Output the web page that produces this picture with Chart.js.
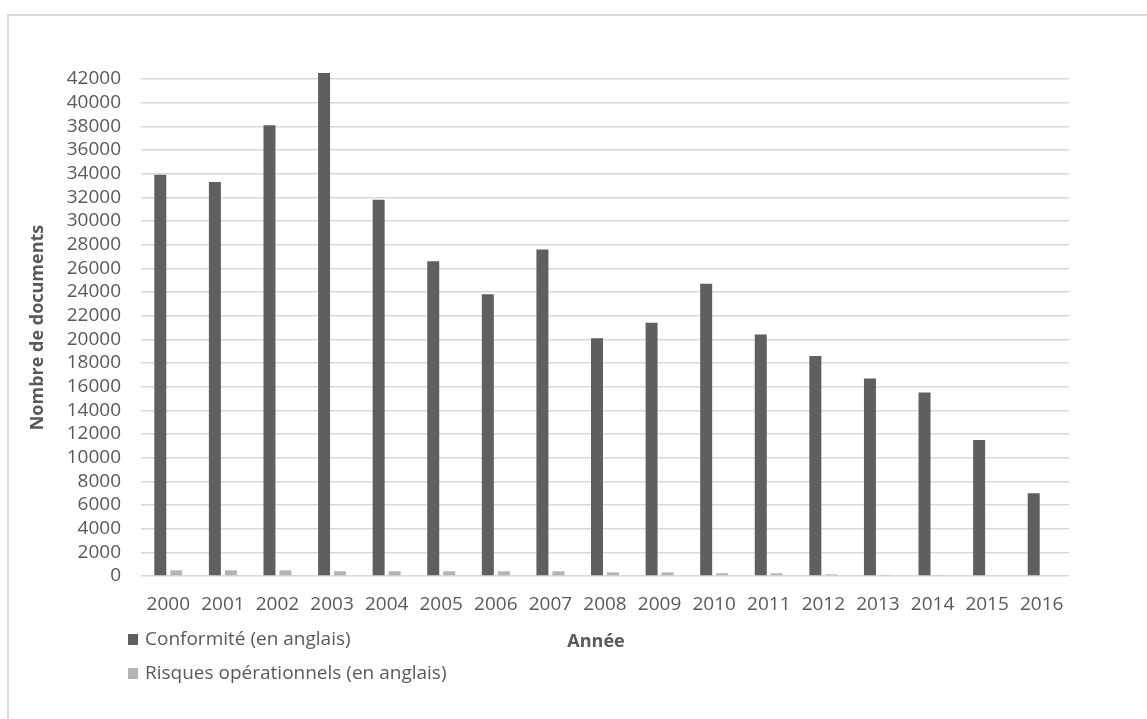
<!DOCTYPE html>
<html>
<head>
<meta charset="utf-8">
<script src="https://cdn.jsdelivr.net/npm/chart.js@4/dist/chart.umd.min.js"></script>
<style>
  html, body { margin: 0; padding: 0; background: #ffffff; }
  #wrap { position: relative; width: 1147px; height: 719px; overflow: hidden; }
  #frame { position: absolute; left: 7px; top: 14px; width: 1200px; height: 800px;
           border-top: 2px solid #d9d9d9; border-left: 2px solid #d9d9d9; }
  canvas { position: absolute; left: 0; top: 0; }
  .leg { position: absolute; left: 128px; font-family: "Open Sans", sans-serif;
         font-size: 19px; color: #595959; white-space: nowrap; line-height: 22px; }
  .leg span.sw { display: inline-block; width: 10px; height: 11px; margin-right: 7px;
                 vertical-align: 0px; }
  #xt { position: absolute; left: 546px; width: 100px; text-align: center; top: 628px;
        font-family: "Open Sans", sans-serif; font-size: 18px; font-weight: bold; color: #595959;
        line-height: 24px; }
</style>
</head>
<body>
<div id="wrap">
  <div id="frame"></div>
  <canvas id="c" width="1147" height="719"></canvas>
  <div class="leg" id="leg1" style="top:627px;"><span class="sw" style="background:#5f5f5f"></span><span id="t1"></span></div>
  <div class="leg" id="leg2" style="top:661px;"><span class="sw" style="background:#b4b4b4"></span><span id="t2"></span></div>
  <div id="xt"></div>
</div>
<script>
const categories = ["2000","2001","2002","2003","2004","2005","2006","2007","2008","2009","2010","2011","2012","2013","2014","2015","2016"];
const conformite = [33900, 33300, 38100, 42500, 31800, 26600, 23800, 27600, 20100, 21400, 24700, 20400, 18600, 16700, 15500, 11500, 7000];
const risques = [480, 480, 480, 400, 400, 400, 400, 400, 310, 310, 230, 230, 140, 90, 80, 0, 0];
const seriesNames = ["Conformité (en anglais)", "Risques opérationnels (en anglais)"];
const yTicks = [0,2000,4000,6000,8000,10000,12000,14000,16000,18000,20000,22000,24000,26000,28000,30000,32000,34000,36000,38000,40000,42000];
const xTitle = "Année";
const yTitle = "Nombre de documents";

document.getElementById('t1').textContent = seriesNames[0];
document.getElementById('t2').textContent = seriesNames[1];
document.getElementById('xt').textContent = xTitle;

const ctx = document.getElementById('c');
new Chart(ctx, {
  type: 'bar',
  data: {
    labels: categories,
    datasets: [
      { label: seriesNames[0], data: conformite, backgroundColor: '#5f5f5f',
        categoryPercentage: 0.586, barPercentage: 0.75, clip: false },
      { label: seriesNames[1], data: risques, backgroundColor: '#b4b4b4',
        categoryPercentage: 0.586, barPercentage: 0.75, clip: false }
    ]
  },
  options: {
    responsive: false,
    animation: false,
    devicePixelRatio: 1,
    layout: { padding: { left: 0, top: 79, right: 78, bottom: 0 } },
    plugins: { legend: { display: false }, tooltip: { enabled: false } },
    scales: {
      x: {
        grid: { display: false, drawTicks: false },
        border: { display: false },
        ticks: { color: '#595959', font: { family: 'Open Sans', size: 19 }, padding: 17, maxRotation: 0, autoSkip: false },
        afterFit: (s) => { s.height = 143; }
      },
      y: {
        min: 0, max: 42000,
        afterBuildTicks: (s) => { s.ticks = yTicks.map(v => ({ value: v })); },
        grid: { color: '#d9d9d9', lineWidth: 1.5, drawTicks: false },
        border: { display: false },
        ticks: { color: '#595959', font: { family: 'Open Sans', size: 19 }, padding: 20, autoSkip: false,
                 callback: (v) => String(v) },
        title: { display: true, text: yTitle, color: '#595959',
                 font: { family: 'Open Sans', size: 18, weight: 'bold' },
                 padding: { top: 27, bottom: 0 } },
        afterFit: (s) => { s.width = 141; }
      }
    }
  }
});
</script>
</body>
</html>
